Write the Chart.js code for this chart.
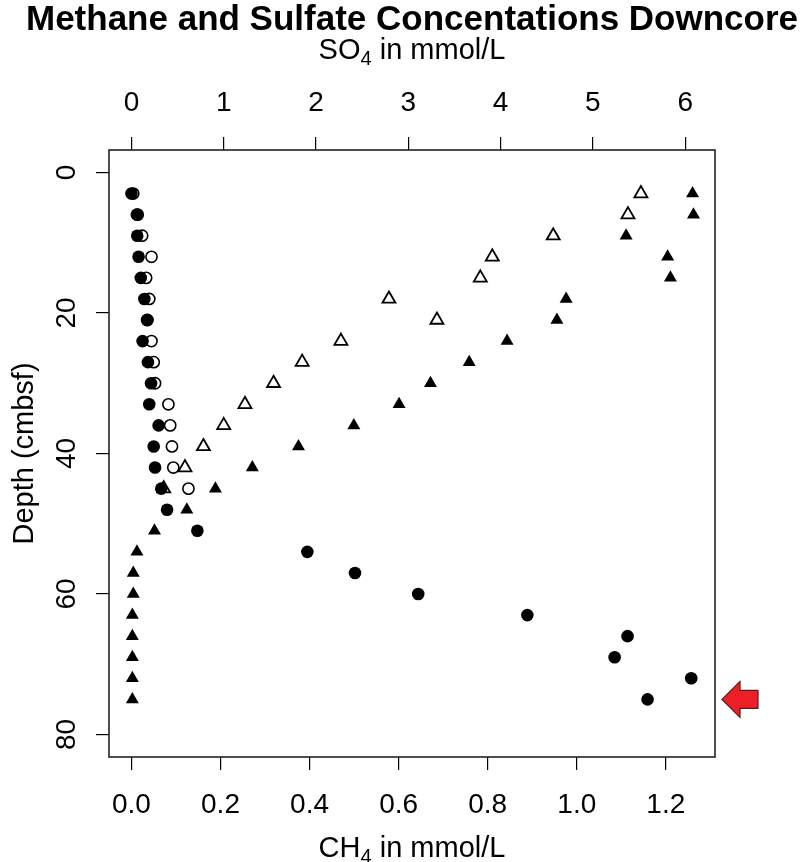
<!DOCTYPE html>
<html>
<head>
<meta charset="utf-8">
<title>Methane and Sulfate Concentations Downcore</title>
<script src="https://cdn.jsdelivr.net/npm/chart.js@4.4.1/dist/chart.umd.min.js"></script>
<style>
    html, body { margin: 0; padding: 0; background: #fff; }
    #wrap { width: 800px; height: 862px; }
</style>
</head>
<body>
<div id="wrap"><canvas id="profile"></canvas></div>
<script>
// Sample depths (cmbsf)
const depthLong = [3, 6, 9, 12, 15, 18, 21, 24, 27, 30, 33, 36, 39, 42, 45, 48, 51, 54, 57, 60, 63, 66, 69, 72, 75];
const depthShort = [3, 6, 9, 12, 15, 18, 21, 24, 27, 30, 33, 36, 39, 42, 45];

// CH4 in mmol/L (bottom axis)
const ch4Filled = [0.000, 0.012, 0.013, 0.016, 0.021, 0.029, 0.035, 0.025, 0.037, 0.044, 0.040, 0.061, 0.050,
    0.053, 0.067, 0.080, 0.148, 0.395, 0.502, 0.644, 0.889, 1.114, 1.085, 1.257, 1.159];
const ch4Open = [0.004, 0.014, 0.024, 0.045, 0.033, 0.040, 0.036, 0.045, 0.050, 0.053, 0.083, 0.087, 0.091, 0.094, 0.128];

// SO4 in mmol/L (top axis)
const so4Filled = [6.08, 6.09, 5.36, 5.81, 5.84, 4.71, 4.61, 4.07, 3.66, 3.24, 2.90, 2.41, 1.81,
    1.31, 0.91, 0.60, 0.25, 0.06, 0.02, 0.02, 0.01, 0.01, 0.01, 0.01, 0.01];
const so4Open = [5.52, 5.38, 4.57, 3.91, 3.78, 2.79, 3.31, 2.27, 1.85, 1.54, 1.23, 1.00, 0.78, 0.58, 0.35];

// Tick labels
const ch4Ticks = [0, 0.2, 0.4, 0.6, 0.8, 1.0, 1.2];
const so4Ticks = [0, 1, 2, 3, 4, 5, 6];
const depthTicks = [0, 20, 40, 60, 80];

const FONT = "'Liberation Sans', Arial, Helvetica, sans-serif";
Chart.defaults.font.family = FONT;
Chart.defaults.color = '#000';

function pairs(values, depths) {
    return values.map((v, i) => ({ x: v, y: depths[i] }));
}

function tickList(list) {
    return scale => { scale.ticks = list.map(v => ({ value: v })); };
}

const gridOpts = { drawOnChartArea: false, drawTicks: true, tickLength: 13, color: '#000', lineWidth: 1.2 };

// title, axis titles with subscripts, frame and the red marker arrow
const decorations = {
    id: 'decorations',
    afterDraw(chart) {
        const { ctx, chartArea: area } = chart;
        const cx = (area.left + area.right) / 2;
        ctx.save();

        ctx.strokeStyle = '#222';
        ctx.lineWidth = 1.6;
        ctx.strokeRect(area.left, area.top, area.right - area.left, area.bottom - area.top);

        ctx.fillStyle = '#000';
        ctx.textAlign = 'center';
        ctx.textBaseline = 'alphabetic';
        ctx.font = 'bold 35px ' + FONT;
        ctx.fillText('Methane and Sulfate Concentations Downcore', cx, 30);

        drawSubLabel(ctx, 'SO', '4', ' in mmol/L', cx, 59);
        drawSubLabel(ctx, 'CH', '4', ' in mmol/L', cx, 857);

        ctx.save();
        ctx.translate(33, (area.top + area.bottom) / 2);
        ctx.rotate(-Math.PI / 2);
        ctx.font = '29px ' + FONT;
        ctx.textAlign = 'center';
        ctx.fillText('Depth (cmbsf)', 0, 0);
        ctx.restore();

        // arrow pointing at the deepest sample
        const ay = chart.scales.y.getPixelForValue(75);
        const tip = area.right + 7;
        ctx.beginPath();
        ctx.moveTo(tip, ay);
        ctx.lineTo(tip + 18, ay - 18);
        ctx.lineTo(tip + 18, ay - 9);
        ctx.lineTo(tip + 36, ay - 9);
        ctx.lineTo(tip + 36, ay + 9);
        ctx.lineTo(tip + 18, ay + 9);
        ctx.lineTo(tip + 18, ay + 18);
        ctx.closePath();
        ctx.fillStyle = '#ec1f26';
        ctx.fill();
        ctx.strokeStyle = '#5a1a1a';
        ctx.lineWidth = 1.2;
        ctx.stroke();

        ctx.restore();
    }
};

function drawSubLabel(ctx, main, sub, rest, cx, baseline) {
    const big = '29px ' + FONT;
    const small = '20px ' + FONT;
    ctx.font = big;
    const w1 = ctx.measureText(main).width;
    const w3 = ctx.measureText(rest).width;
    ctx.font = small;
    const w2 = ctx.measureText(sub).width;
    let x = cx - (w1 + w2 + w3) / 2;
    ctx.textAlign = 'left';
    ctx.font = big;
    ctx.fillText(main, x, baseline);
    x += w1;
    ctx.font = small;
    ctx.fillText(sub, x, baseline + 6);
    x += w2;
    ctx.font = big;
    ctx.fillText(rest, x, baseline);
    ctx.textAlign = 'center';
}

new Chart(document.getElementById('profile'), {
    type: 'scatter',
    data: {
        datasets: [
            {
                label: 'CH4 (filled)',
                data: pairs(ch4Filled, depthLong),
                xAxisID: 'x', yAxisID: 'y',
                pointStyle: 'circle', pointRadius: 6.3,
                backgroundColor: '#000', borderColor: '#000', borderWidth: 0
            },
            {
                label: 'CH4 (open)',
                data: pairs(ch4Open, depthShort),
                xAxisID: 'x', yAxisID: 'y',
                pointStyle: 'circle', pointRadius: 5.6,
                backgroundColor: 'rgba(0,0,0,0)', borderColor: '#000', borderWidth: 1.6
            },
            {
                label: 'SO4 (filled)',
                data: pairs(so4Filled, depthLong),
                xAxisID: 'x2', yAxisID: 'y',
                pointStyle: 'triangle', pointRadius: 7.5,
                backgroundColor: '#000', borderColor: '#000', borderWidth: 0
            },
            {
                label: 'SO4 (open)',
                data: pairs(so4Open, depthShort),
                xAxisID: 'x2', yAxisID: 'y',
                pointStyle: 'triangle', pointRadius: 7.5,
                backgroundColor: 'rgba(0,0,0,0)', borderColor: '#000', borderWidth: 1.8
            }
        ]
    },
    options: {
        responsive: true,
        maintainAspectRatio: false,
        animation: false,
        layout: { padding: { left: 0, right: 85, top: 0, bottom: 0 } },
        plugins: {
            legend: { display: false },
            tooltip: { enabled: false },
            title: { display: false }
        },
        scales: {
            x: {
                type: 'linear', position: 'bottom',
                min: -0.0504, max: 1.3104,
                afterBuildTicks: tickList(ch4Ticks),
                afterFit: s => { s.height = 105; },
                ticks: { font: { size: 28 }, color: '#000', padding: 18, maxRotation: 0, autoSkip: false,
                    callback: v => Number(v).toFixed(1) },
                grid: gridOpts,
                border: { display: false }
            },
            x2: {
                type: 'linear', position: 'top',
                min: -0.243, max: 6.323,
                afterBuildTicks: tickList(so4Ticks),
                afterFit: s => { s.height = 150; },
                ticks: { font: { size: 28 }, color: '#000', padding: 17, maxRotation: 0, autoSkip: false,
                    callback: v => String(v) },
                grid: gridOpts,
                border: { display: false }
            },
            y: {
                type: 'linear', position: 'left', reverse: true,
                min: -3.2, max: 83.2,
                afterBuildTicks: tickList(depthTicks),
                afterFit: s => { s.width = 109; },
                ticks: { font: { size: 28 }, color: '#000', padding: 13, minRotation: 90, maxRotation: 90,
                    crossAlign: 'center', autoSkip: false, callback: v => String(v) },
                grid: gridOpts,
                border: { display: false }
            }
        }
    },
    plugins: [decorations]
});
</script>
</body>
</html>
